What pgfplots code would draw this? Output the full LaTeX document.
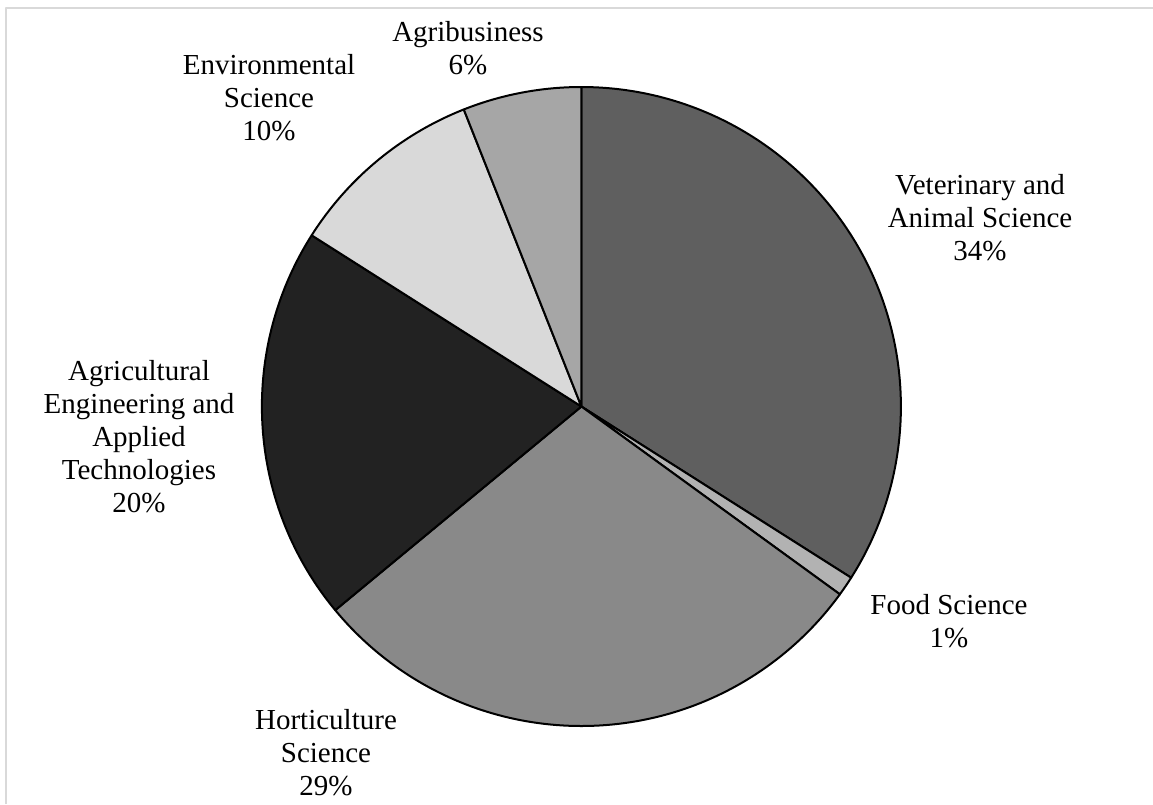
\documentclass[border=0pt]{standalone}
\usepackage{pgfplots}
\pgfplotsset{compat=1.18}
\usepackage{fontspec}
\setmainfont{Liberation Serif}
\definecolor{cVet}{HTML}{5F5F5F}
\definecolor{cFood}{HTML}{B2B2B2}
\definecolor{cHort}{HTML}{898989}
\definecolor{cEng}{HTML}{222222}
\definecolor{cEnv}{HTML}{D9D9D9}
\definecolor{cAgri}{HTML}{A6A6A6}
\definecolor{frame}{HTML}{D9D9D9}
% shares (percent), clockwise from 12 o'clock
\def\pVet{34}
\def\pFood{1}
\def\pHort{29}
\def\pEng{20}
\def\pEnv{10}
\def\pAgri{6}
\pgfmathsetmacro\aA{0}
\pgfmathsetmacro\aB{\aA+3.6*\pVet}
\pgfmathsetmacro\aC{\aB+3.6*\pFood}
\pgfmathsetmacro\aD{\aC+3.6*\pHort}
\pgfmathsetmacro\aE{\aD+3.6*\pEng}
\pgfmathsetmacro\aF{\aE+3.6*\pEnv}
\pgfmathsetmacro\aG{\aF+3.6*\pAgri}
\def\cx{581.4}
\def\cy{406.5}
\def\rr{319.5}
\begin{document}
\begin{tikzpicture}
\begin{axis}[
  x=0.5bp, y=0.5bp,
  xmin=0, xmax=1153, ymin=0, ymax=804,
  y dir=reverse,
  hide axis, clip=false,
  every axis plot/.append style={line join=round},
]
\coordinate (bl) at (axis cs:0,804);
\coordinate (tr) at (axis cs:1153,0);
\addplot[frame, line width=1bp] coordinates {(5.5,804) (5.5,7.5) (1153,7.5)};
\addplot[fill=cVet, draw=black, line width=1bp, domain=\aA:\aB, samples=200, variable=\t]
  ({\cx+\rr*sin(\t)},{\cy-\rr*cos(\t)}) -- (\cx,\cy) -- cycle;
\addplot[fill=cFood, draw=black, line width=1bp, domain=\aB:\aC, samples=20, variable=\t]
  ({\cx+\rr*sin(\t)},{\cy-\rr*cos(\t)}) -- (\cx,\cy) -- cycle;
\addplot[fill=cHort, draw=black, line width=1bp, domain=\aC:\aD, samples=200, variable=\t]
  ({\cx+\rr*sin(\t)},{\cy-\rr*cos(\t)}) -- (\cx,\cy) -- cycle;
\addplot[fill=cEng, draw=black, line width=1bp, domain=\aD:\aE, samples=150, variable=\t]
  ({\cx+\rr*sin(\t)},{\cy-\rr*cos(\t)}) -- (\cx,\cy) -- cycle;
\addplot[fill=cEnv, draw=black, line width=1bp, domain=\aE:\aF, samples=100, variable=\t]
  ({\cx+\rr*sin(\t)},{\cy-\rr*cos(\t)}) -- (\cx,\cy) -- cycle;
\addplot[fill=cAgri, draw=black, line width=1bp, domain=\aF:\aG, samples=80, variable=\t]
  ({\cx+\rr*sin(\t)},{\cy-\rr*cos(\t)}) -- (\cx,\cy) -- cycle;
\tikzset{lab/.style={align=center, inner sep=0pt, font=\fontsize{14.5bp}{16.5bp}\selectfont}}
\node[lab] at (axis cs:980,218) {Veterinary and\\Animal Science\\34\%};
\node[lab] at (axis cs:949,621.5) {Food Science\\1\%};
\node[lab] at (axis cs:326,753) {Horticulture\\Science\\29\%};
\node[lab] at (axis cs:139,437) {Agricultural\\Engineering and\\Applied\\Technologies\\20\%};
\node[lab] at (axis cs:269,98) {Environmental\\Science\\10\%};
\node[lab] at (axis cs:468,48.5) {Agribusiness\\6\%};
\end{axis}
\pgfresetboundingbox
\path[use as bounding box] (bl) rectangle (tr);
\end{tikzpicture}
\end{document}
